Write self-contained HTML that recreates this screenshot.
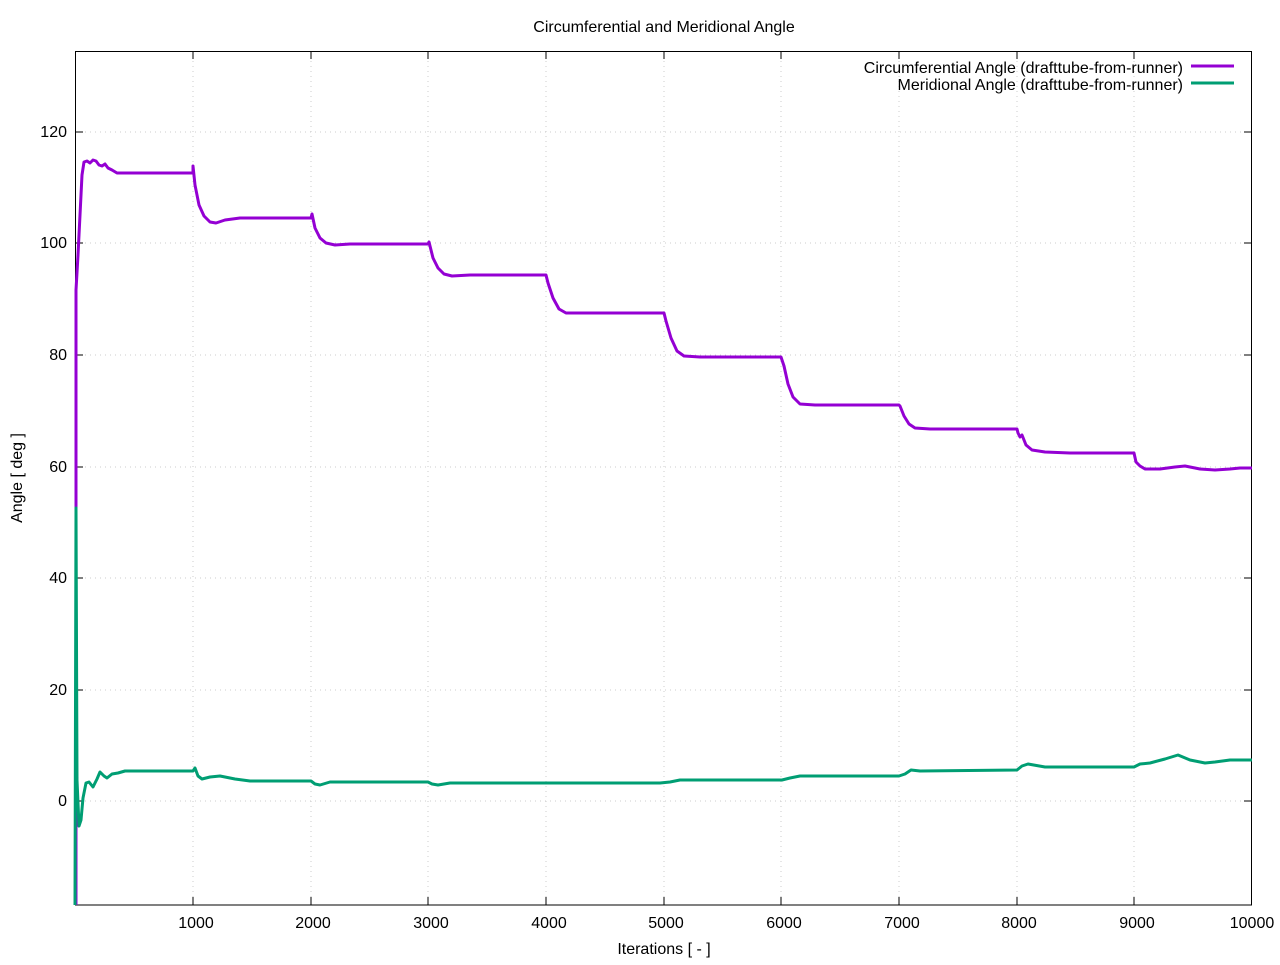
<!DOCTYPE html><html><head><style>body{margin:0;background:#fff}</style></head><body>
<svg width="1280" height="960" xmlns="http://www.w3.org/2000/svg" font-family="Liberation Sans, sans-serif" font-size="16">
<rect width="1280" height="960" fill="#fff"/>
<g stroke="#ccc" stroke-dasharray="1,4" stroke-width="1">
<path d="M193 51V905M311 51V905M428 51V905M546 51V905M664 51V905M781 51V905M899 51V905M1017 51V905M1134 51V905"/>
<path d="M75 132H1252M75 243H1252M75 355H1252M75 467H1252M75 578H1252M75 690H1252M75 801H1252"/>
</g>
<rect x="75.5" y="51.5" width="1176" height="853.5" fill="none" stroke="#000"/>
<g stroke="#000"><path d="M75 132h8M75 243h8M75 355h8M75 467h8M75 578h8M75 690h8M75 801h8M1252 132h-8M1252 243h-8M1252 355h-8M1252 467h-8M1252 578h-8M1252 690h-8M1252 801h-8M193 905v-8M311 905v-8M428 905v-8M546 905v-8M664 905v-8M781 905v-8M899 905v-8M1017 905v-8M1134 905v-8M193 51v8M311 51v8M428 51v8M546 51v8M664 51v8M781 51v8M899 51v8M1017 51v8M1134 51v8"/></g>
<g text-anchor="end"><text x="67" y="137">120</text><text x="67" y="248">100</text><text x="67" y="360">80</text><text x="67" y="472">60</text><text x="67" y="583">40</text><text x="67" y="695">20</text><text x="67" y="806">0</text></g>
<g text-anchor="middle"><text x="196" y="928">1000</text><text x="313" y="928">2000</text><text x="431" y="928">3000</text><text x="549" y="928">4000</text><text x="666" y="928">5000</text><text x="784" y="928">6000</text><text x="902" y="928">7000</text><text x="1019" y="928">8000</text><text x="1137" y="928">9000</text><text x="1252" y="928">10000</text>
<text x="664" y="954">Iterations [ - ]</text><text x="664" y="32">Circumferential and Meridional Angle</text></g>
<text transform="translate(22 478) rotate(-90)" text-anchor="middle">Angle [ deg ]</text>
<text x="1183" y="73" text-anchor="end">Circumferential Angle (drafttube-from-runner)</text>
<text x="1183" y="90" text-anchor="end">Meridional Angle (drafttube-from-runner)</text>
<path d="M1191 66h43" stroke="#9400d3" stroke-width="3"/>
<path d="M1191 83h43" stroke="#009e73" stroke-width="3"/>
<path fill="none" stroke="#9400d3" stroke-width="3" stroke-linejoin="round" d="M76 905L76 290L78 255L80 215L82 175L84 162L87 161L90 163L93 160L96 161L99 165L102 166L105 164L108 168L112 170L117 173L125 173L193 173L193 166L195 185L199 205L204 216L210 222L216 223L225 220L240 218L255 218L311 218L312 214L315 228L320 238L326 243L335 245L350 244L428 244L429 242L433 258L438 268L444 274L452 276L470 275L546 275L548 283L553 298L559 309L566 313L580 313L664 313L666 321L671 338L677 351L684 356L700 357L781 357L784 366L788 384L793 397L800 404L815 405L899 405L900 406L904 416L909 424L915 428L930 429L1017 429L1018 433L1020 437L1022 435L1026 445L1032 450L1045 452L1070 453L1134 453L1136 462L1140 466L1145 469L1160 469L1175 467L1185 466L1200 469L1215 470L1230 469L1240 468L1252 468"/>
<path fill="none" stroke="#009e73" stroke-width="3" stroke-linejoin="round" d="M75 905L76 508L77 780L79 826L81 820L83 798L86 783L89 782L93 787L97 779L100 772L104 776L107 778L112 774L118 773L125 771L193 771L195 768L198 776L202 779L210 777L220 776L235 779L250 781L311 781L315 784L320 785L330 782L428 782L432 784L438 785L450 783L660 783L670 782L680 780L782 780L790 778L800 776L899 776L905 774L911 770L920 771L1017 770L1022 766L1028 764L1045 767L1134 767L1140 764L1150 763L1165 759L1178 755L1190 760L1205 763L1215 762L1230 760L1252 760"/>
</svg></body></html>
